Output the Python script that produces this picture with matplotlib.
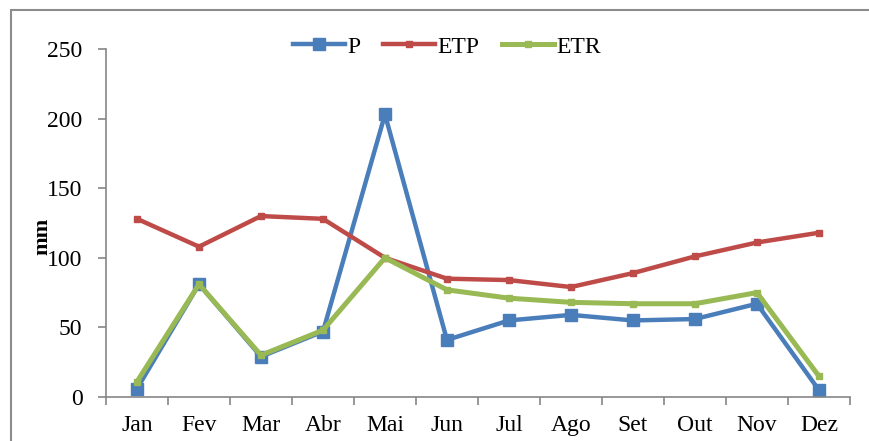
import matplotlib.pyplot as plt
from matplotlib.patches import Rectangle

months = ['Jan', 'Fev', 'Mar', 'Abr', 'Mai', 'Jun', 'Jul', 'Ago', 'Set', 'Out', 'Nov', 'Dez']
p_vals = [6, 81, 29, 47, 203, 41, 55, 59, 55, 56, 67, 5]
etp_vals = [128, 108, 130, 128, 100, 85, 84, 79, 89, 101, 111, 118]
etr_vals = [11, 81, 30, 48, 100, 77, 71, 68, 67, 67, 75, 15]

plt.rcParams['font.family'] = ['Liberation Serif', 'DejaVu Serif']

fig = plt.figure(figsize=(8.69, 4.41), dpi=100)
ax = fig.add_axes([0.122, 0.0998, 0.856, 0.789])

# frame around the chart area (right and bottom run off the canvas)
fig.patches.append(Rectangle((11 / 869, -0.05), 1.0, 1 - 10 / 441 + 0.05,
                             transform=fig.transFigure, fill=False,
                             edgecolor='#8c8c8c', linewidth=1.5))

x = range(len(months))
ax.plot(x, p_vals, color='#4a7ebb', lw=3.2, marker='s', ms=8, label='P')
ax.plot(x, etp_vals, color='#be4b48', lw=3.2, marker='s', ms=4.5, label='ETP')
ax.plot(x, etr_vals, color='#98b954', lw=3.6, marker='s', ms=4.5, label='ETR')

ax.set_xlim(-0.5, len(months) - 0.5)
ax.set_ylim(0, 250)
ax.set_yticks(range(0, 251, 50))
ax.set_xticks(x)
ax.set_xticklabels(months)
ax.set_xticks([i - 0.5 for i in range(len(months) + 1)], minor=True)
ax.tick_params(axis='x', which='major', length=0, pad=13, labelsize=17)
ax.tick_params(axis='x', which='minor', length=6, width=1.2, color='#868686', direction='out')
ax.tick_params(axis='y', length=6, width=1.2, color='#868686', pad=11, labelsize=17)

for side in ['top', 'right']:
    ax.spines[side].set_visible(False)
for side in ['left', 'bottom']:
    ax.spines[side].set_color('#868686')
    ax.spines[side].set_linewidth(1.2)

fig.text(42 / 869, 1 - 236 / 441, 'mm', rotation=90, ha='center', va='center',
         fontsize=16, fontweight='bold')

ax.legend(loc='center', bbox_to_anchor=(447 / 869, 1 - 47 / 441), ncol=3, frameon=False,
          fontsize=17, handlelength=2.2, columnspacing=0.95, handletextpad=0.1,
          bbox_transform=fig.transFigure)

fig.savefig('out.png', dpi=100)
